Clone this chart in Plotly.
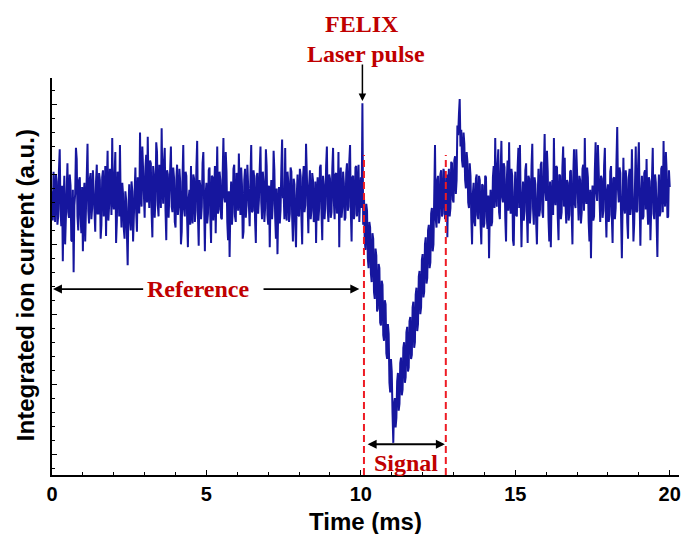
import numpy as np
import plotly.graph_objects as go

# ---------------- data ----------------
dt = 0.025                     # ms between samples
ref_start = 0.000              # reference window start (ms)
sig_start = 10.025             # first sample of the pulse / signal window (ms)
post_start = 12.800            # first sample after the signal window (ms)

# integrated ion current (a.u.), 0.000 .. 10.000 ms
ref_current = [
    19.8, 17.7, 21.2, 18.1, 17.6, 21.0, 20.5, 17.4, 18.0, 21.3, 22.8, 18.5, 17.3, 20.2, 14.8, 19.1, 20.9, 16.0, 18.4, 21.5,
    21.8, 18.3, 17.9, 21.0, 20.2, 16.3, 16.2, 19.9, 14.0, 18.8, 19.6, 22.9, 22.1, 18.0, 17.0, 20.6, 20.8, 17.9, 16.8, 20.1,
    15.5, 19.4, 20.4, 16.2, 18.1, 21.5, 23.2, 18.4, 17.5, 20.7, 21.1, 17.8, 18.6, 21.3, 20.0, 17.6, 16.9, 20.5, 21.7, 18.2,
    18.2, 21.1, 20.6, 16.4, 17.4, 20.8, 21.3, 18.0, 19.0, 21.6, 16.6, 20.2, 22.7, 17.7, 18.8, 21.4, 20.3, 18.1, 23.6, 19.2,
    18.5, 20.9, 22.6, 16.1, 17.7, 21.2, 20.9, 18.0, 23.1, 18.9, 17.2, 20.4, 19.6, 17.1, 16.4, 19.8, 19.2, 16.8, 14.5, 18.6,
    20.3, 17.8, 17.0, 20.5, 19.8, 16.2, 18.1, 21.2, 21.5, 18.3, 16.9, 20.8, 20.6, 18.2, 24.0, 19.5, 18.7, 23.0, 21.2, 18.0,
    17.9, 21.5, 22.4, 19.0, 23.7, 20.1, 18.6, 22.0, 21.8, 18.2, 16.5, 21.6, 20.9, 17.9, 19.2, 23.3, 22.6, 18.8, 18.0, 21.7,
    21.4, 18.6, 24.3, 20.2, 18.9, 21.9, 22.9, 18.4, 16.3, 21.3, 21.0, 17.9, 19.4, 22.1, 23.0, 18.7, 18.3, 21.5, 20.8, 17.6,
    17.2, 20.6, 21.7, 18.1, 18.8, 21.4, 20.5, 16.0, 16.9, 20.7, 23.1, 18.5, 18.0, 21.2, 20.9, 17.8, 15.8, 19.3, 19.9, 17.4,
    21.6, 18.2, 17.5, 21.0, 20.7, 17.6, 18.4, 21.5, 23.4, 18.1, 15.9, 20.6, 20.2, 17.8, 18.7, 21.8, 22.6, 18.9, 15.5, 19.6,
    20.4, 17.5, 18.2, 21.3, 21.5, 18.0, 16.1, 20.9, 20.8, 17.7, 19.1, 21.6, 16.8, 20.3, 23.0, 18.2, 18.5, 21.2, 20.6, 17.9,
    17.8, 21.0, 23.6, 19.4, 19.0, 22.6, 21.2, 17.6, 16.3, 19.8, 15.1, 18.7, 20.5, 17.4, 18.3, 21.4, 21.7, 18.0, 17.6, 21.1,
    20.9, 18.4, 22.5, 19.6, 18.1, 21.5, 20.3, 16.4, 16.9, 20.6, 21.4, 17.9, 18.8, 21.7, 20.0, 17.5, 17.3, 20.8, 23.1, 18.3,
    18.4, 21.3, 20.7, 17.7, 16.1, 20.9, 21.1, 18.2, 19.2, 21.4, 23.0, 19.0, 17.8, 21.2, 20.4, 17.6, 18.6, 22.8, 21.6, 18.1,
    17.4, 20.2, 15.8, 19.2, 20.6, 17.8, 18.9, 22.7, 21.3, 18.0, 16.4, 20.0, 15.3, 18.6, 20.1, 17.5, 18.5, 21.4, 23.5, 19.3,
    19.6, 17.8, 22.9, 18.6, 17.7, 21.2, 20.5, 17.6, 18.2, 21.5, 21.2, 18.0, 16.2, 20.7, 20.3, 17.4, 15.8, 19.5, 21.0, 18.1,
    18.0, 21.4, 20.9, 17.9, 16.0, 20.7, 21.6, 18.3, 18.8, 23.2, 20.1, 17.5, 16.8, 20.2, 21.3, 17.8, 18.4, 21.1, 20.6, 17.6,
    17.9, 20.5, 16.1, 19.3, 20.8, 17.7, 18.6, 21.5, 21.7, 18.2, 16.3, 20.9, 20.2, 17.8, 18.9, 21.6, 23.0, 18.5, 17.6, 21.0,
    20.7, 17.9, 18.3, 21.4, 22.9, 19.1, 17.8, 21.0, 21.1, 18.2, 19.0, 22.6, 15.8, 20.3, 21.5, 17.9, 18.6, 21.2, 20.4, 17.7,
    17.9, 21.1, 21.8, 18.4, 18.7, 21.9, 23.1, 18.3, 16.2, 20.8, 20.9, 17.8, 18.2, 21.5, 21.6, 18.0, 19.3, 21.7, 17.6, 20.4,
    20.8,
]

# 10.025 .. 12.775 ms (pulse spike, depletion dip and recovery)
signal_current = [
    18.6, 26.1, 17.4, 19.6, 16.3, 15.6, 18.9, 18.4, 15.0, 14.3,
    17.6, 17.2, 13.9, 13.3, 16.8, 16.4, 12.6, 12.1, 15.7, 15.2,
    11.2, 11.4, 14.6, 14.3, 10.4, 10.2, 13.4, 13.1, 9.5, 9.1,
    12.0, 11.7, 8.2, 7.8, 10.3, 9.6, 6.1, 5.4, 7.8, 6.9,
    3.9, 1.8, 4.6, 5.0, 2.9, 3.6, 6.2, 6.8, 4.1, 4.6,
    7.5, 7.9, 5.2, 5.6, 8.6, 9.0, 6.1, 6.5, 9.7, 10.1,
    6.9, 7.2, 10.5, 10.8, 7.8, 8.1, 11.5, 11.9, 8.6, 9.0,
    12.4, 12.9, 9.8, 10.3, 13.7, 14.1, 11.0, 11.5, 14.9, 15.3,
    12.2, 12.6, 16.0, 16.5, 13.2, 13.6, 17.0, 17.4, 14.3, 14.7,
    18.2, 18.6, 15.5, 16.0, 19.4, 23.1, 17.8, 17.2, 20.6, 20.9,
    17.5, 17.9, 21.0, 21.3, 18.0, 18.2, 21.4, 21.1, 17.8, 18.4,
    21.0,
]

# 12.800 .. 20.000 ms
post_current = [
    16.5, 20.3, 21.4, 18.0, 18.6, 21.9, 21.8, 19.2, 19.0, 22.0, 22.3, 19.6, 20.6, 24.5, 23.8, 25.3, 26.4, 23.0, 24.2, 22.0,
    21.5, 24.0, 23.2, 20.6, 20.0, 22.6, 21.9, 19.0, 18.6, 21.8, 20.9, 17.9, 16.0, 19.6, 20.4, 17.6, 17.3, 20.7, 21.0, 18.1,
    17.8, 20.9, 20.6, 17.5, 16.0, 20.3, 20.2, 17.2, 17.5, 20.9, 20.8, 18.0, 17.1, 19.5, 15.0, 18.4, 19.9, 17.3, 17.6, 20.8,
    21.6, 18.6, 23.6, 19.8, 18.7, 21.7, 22.8, 18.3, 17.8, 21.2, 23.4, 19.4, 19.0, 21.8, 21.5, 17.9, 16.2, 20.6, 22.0, 18.4,
    23.3, 19.3, 18.2, 21.4, 20.9, 16.3, 15.9, 19.7, 21.2, 18.1, 18.0, 21.5, 22.9, 18.6, 23.1, 19.2, 15.8, 19.0, 20.5, 17.7,
    18.4, 21.3, 21.8, 18.2, 16.1, 20.9, 20.7, 17.5, 18.6, 21.6, 23.2, 18.5, 17.4, 20.8, 20.3, 17.6, 16.0, 19.4, 21.4, 18.0,
    18.5, 21.7, 21.9, 18.3, 17.9, 21.2, 23.9, 19.8, 19.1, 22.7, 21.2, 17.8, 16.2, 20.5, 15.8, 19.2, 20.6, 18.1, 23.6, 19.5,
    18.8, 21.6, 21.5, 17.9, 16.3, 21.0, 20.9, 17.8, 18.3, 21.5, 23.0, 18.7, 22.2, 18.9, 17.5, 20.6, 20.4, 17.7, 18.1, 21.2,
    21.3, 18.2, 16.0, 20.8, 22.8, 18.9, 18.6, 22.8, 21.0, 17.9, 17.7, 20.9, 20.6, 17.5, 18.3, 21.4, 21.7, 18.4, 23.6, 19.6,
    18.9, 21.5, 20.8, 17.6, 16.2, 19.9, 15.0, 18.8, 20.2, 17.7, 18.0, 21.3, 23.3, 19.7, 19.1, 23.1, 21.4, 18.2, 17.6, 20.9,
    20.7, 17.9, 18.4, 21.6, 22.9, 18.6, 16.5, 19.8, 20.3, 17.6, 18.1, 21.2, 21.6, 18.0, 16.1, 20.7, 20.8, 17.8, 18.6, 21.9,
    24.4, 19.9, 19.0, 21.5, 21.1, 17.9, 15.0, 18.9, 22.2, 18.7, 18.2, 21.3, 20.6, 17.6, 16.4, 20.8, 21.4, 18.1, 18.8, 22.8,
    20.2, 16.2, 17.5, 20.9, 23.0, 18.3, 18.4, 21.6, 23.3, 19.2, 15.9, 19.4, 20.9, 17.8, 18.0, 21.1, 21.3, 18.5, 22.1, 18.7,
    17.4, 20.8, 20.5, 16.3, 18.6, 21.5, 22.9, 18.2, 17.8, 21.0, 20.4, 17.6, 15.1, 19.3, 21.0, 18.0, 18.3, 21.4, 21.6, 18.3,
    23.4, 19.6, 18.7, 22.6, 21.2, 17.9, 18.0, 21.3, 20.1,
]

x_ticks = [0, 5, 10, 15, 20]
x_tick_labels = ["0", "5", "10", "15", "20"]

pulse_time = 10.05
signal_window = [10.10, 12.75]
reference_window = [0.0, 9.95]

# ---------------- figure ----------------
time = np.concatenate([
    ref_start + dt * np.arange(len(ref_current)),
    sig_start + dt * np.arange(len(signal_current)),
    post_start + dt * np.arange(len(post_current)),
])
current = ref_current + signal_current + post_current

RED_TEXT = "#c00000"
RED_DASH = "#ee1c24"
TRACE = "#16169e"
SERIF = "Liberation Serif, Times New Roman, serif"
SANS = "Liberation Sans, Arial, sans-serif"

fig = go.Figure()
fig.add_trace(go.Scatter(
    x=time, y=current, mode="lines",
    line=dict(color=TRACE, width=2),
    hoverinfo="skip", showlegend=False,
))

Y0, Y1 = -0.5, 27.9

# dashed signal-window markers
for xv in signal_window:
    fig.add_shape(type="line", xref="x", yref="y",
                  x0=xv, x1=xv, y0=Y0, y1=22.4,
                  line=dict(color=RED_DASH, width=2, dash="7px,4px"))

red_font = dict(family=SERIF, size=24, color=RED_TEXT)
ann = []
# FELIX / Laser pulse labels and arrow
ann.append(dict(xref="x", yref="paper", x=pulse_time, y=1.136, text="<b>FELIX</b>",
                xanchor="center", yanchor="middle", showarrow=False, font=red_font))
ann.append(dict(xref="x", yref="paper", x=pulse_time + 0.1, y=1.060, text="<b>Laser pulse</b>",
                xanchor="center", yanchor="middle", showarrow=False, font=red_font))
ann.append(dict(xref="x", yref="paper", x=pulse_time, y=0.942, text="",
                showarrow=True, axref="pixel", ayref="pixel", ax=0, ay=-38,
                arrowhead=2, arrowsize=1, arrowwidth=1.5, arrowcolor="black"))

# Reference double arrow (two halves with the label in between)
y_ref = 12.8
ann.append(dict(xref="x", yref="y", x=reference_window[0] + 0.03, y=y_ref, axref="x", ayref="y",
                ax=3.0, ay=y_ref, text="", showarrow=True,
                arrowhead=2, arrowsize=1, arrowwidth=1.8, arrowcolor="black"))
ann.append(dict(xref="x", yref="y", x=reference_window[1], y=y_ref, axref="x", ayref="y",
                ax=6.8, ay=y_ref, text="", showarrow=True,
                arrowhead=2, arrowsize=1, arrowwidth=1.8, arrowcolor="black"))
ann.append(dict(xref="x", yref="y", x=4.74, y=y_ref, text="<b>Reference</b>",
                xanchor="center", yanchor="middle", showarrow=False, font=red_font))

# Signal double arrow
y_sig = 1.7
ann.append(dict(xref="x", yref="y", x=signal_window[1] - 0.03, y=y_sig, axref="x", ayref="y",
                ax=signal_window[0] + 0.07, ay=y_sig, text="", showarrow=True,
                arrowside="end+start", arrowhead=2, startarrowhead=2,
                arrowsize=1, startarrowsize=1, arrowwidth=1.8, arrowcolor="black"))
ann.append(dict(xref="x", yref="y", x=11.47, y=0.36, text="<b>Signal</b>",
                xanchor="center", yanchor="middle", showarrow=False, font=red_font))

# axis titles
ann.append(dict(xref="paper", yref="paper", x=-0.041, y=0.479,
                text="<b>Integrated ion current (a.u.)</b>", textangle=-90,
                xanchor="center", yanchor="middle", showarrow=False,
                font=dict(family=SANS, size=24, color="black")))
ann.append(dict(xref="paper", yref="paper", x=0.5, y=-0.118, text="<b>Time (ms)</b>",
                xanchor="center", yanchor="middle", showarrow=False,
                font=dict(family=SANS, size=24, color="black")))

fig.update_layout(
    width=684, height=534,
    margin=dict(l=52, r=5, t=78, b=59, autoexpand=False),
    paper_bgcolor="white", plot_bgcolor="white",
    annotations=ann,
    showlegend=False,
)
fig.update_xaxes(
    range=[0, 20.3], showgrid=False, zeroline=False, automargin=False,
    showline=True, linecolor="black", linewidth=1.5,
    ticks="inside", ticklen=5, tickwidth=1.3, tickcolor="black",
    tickvals=x_ticks, ticktext=x_tick_labels,
    tickfont=dict(family=SANS, size=20, color="black", weight="bold"),
    minor=dict(ticks="inside", ticklen=3, tickwidth=1.2, tickcolor="black", dtick=1, tick0=0),
)
fig.update_yaxes(
    range=[Y0, Y1], showgrid=False, zeroline=False, automargin=False,
    showline=True, linecolor="black", linewidth=1.5,
    ticks="inside", ticklen=5, tickwidth=1.3, tickcolor="black",
    tick0=1, dtick=5, showticklabels=False,
    minor=dict(ticks="inside", ticklen=3, tickwidth=1.2, tickcolor="black", dtick=1, tick0=0),
)

fig.write_html(
    "out.html",
    config={"displayModeBar": False},
    post_script="document.body.style.margin='0';document.body.style.padding='0';",
)
